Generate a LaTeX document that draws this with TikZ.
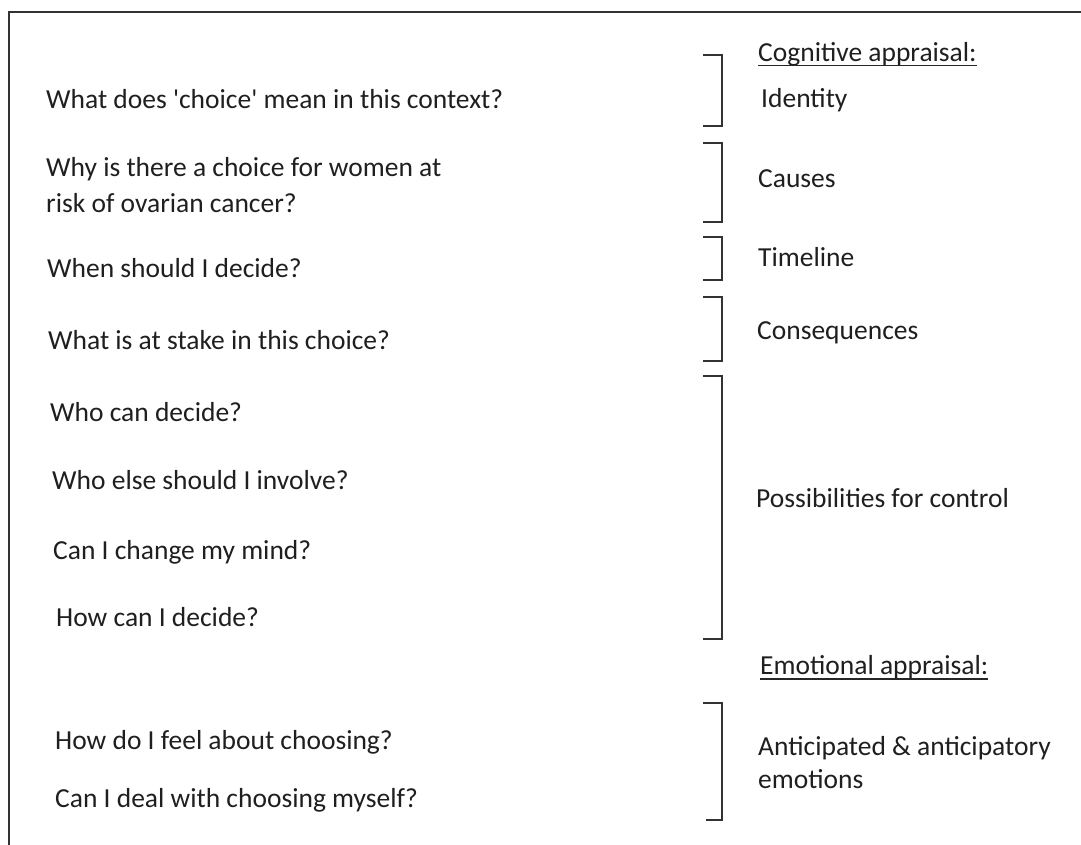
\documentclass[tikz,border=0pt]{standalone}
\usepackage{fontspec}
\setmainfont{Carlito}
\begin{document}
\begin{tikzpicture}[x=1pt,y=-1pt,
  q/.style={anchor=base west,inner sep=0pt,font=\fontsize{27.5}{33}\selectfont,text=black!88},
  lab/.style={anchor=base west,inner sep=0pt,font=\fontsize{27.5}{33}\selectfont,text=black!88},
  brk/.style={draw=black!80,line width=2pt},
  frame/.style={draw=black!80,line width=2pt},
  uline/.style={draw=black!85,line width=1.6pt}]
\useasboundingbox (0,0) rectangle (1081,845);
\fill[white] (0,0) rectangle (1081,845);
% frame (top and left edges visible)
\draw[frame] (9,850) -- (9,12.5) -- (1090,12.5);

% questions
\node[q] (q1) at (46,109) {What does \textquotesingle choice\textquotesingle{} mean in this context?};
\node[q] (q2a) at (46,177) {Why is there a choice for women at};
\node[q] (q2b) at (46,212) {risk of ovarian cancer?};
\node[q] (q3) at (47,277) {When should I decide?};
\node[q] (q4) at (48,349) {What is at stake in this choice?};
\node[q] (q5) at (50,421) {Who can decide?};
\node[q] (q6) at (52,489) {Who else should I involve?};
\node[q] (q7) at (53,559) {Can I change my mind?};
\node[q] (q8) at (56,626) {How can I decide?};
\node[q] (q9) at (55,749) {How do I feel about choosing?};
\node[q] (q10) at (55,807) {Can I deal with choosing myself?};

% labels
\node[lab] (cog) at (758,62) {Cognitive appraisal:};
\draw[uline] ([yshift=-3.5pt]cog.base west) -- ([yshift=-3.5pt]cog.base east);
\node[lab] (l1) at (761,108) {Identity};
\node[lab] (l2) at (758,188) {Causes};
\node[lab] (l3) at (758,266) {Timeline};
\node[lab] (l4) at (757,339) {Consequences};
\node[lab] (l5) at (756,507) {Possibilities for control};
\node[lab] (emo) at (760,674) {Emotional appraisal:};
\draw[uline] ([yshift=-5pt]emo.base west) -- ([yshift=-5pt]emo.base east);
\node[lab] (l6a) at (758,755) {Anticipated \& anticipatory};
\node[lab] (l6b) at (758,788) {emotions};

% brackets
\draw[brk] (703,55) -- (722,55) -- (722,126) -- (703,126);
\draw[brk] (703,143) -- (722,143) -- (722,222) -- (703,222);
\draw[brk] (703,237) -- (722,237) -- (722,280) -- (703,280);
\draw[brk] (703,297) -- (722,297) -- (722,361) -- (703,361);
\draw[brk] (703,376) -- (722,376) -- (722,639) -- (703,639);
\draw[brk] (703,703) -- (722,703) -- (722,820) -- (706,820);
\end{tikzpicture}
\end{document}
